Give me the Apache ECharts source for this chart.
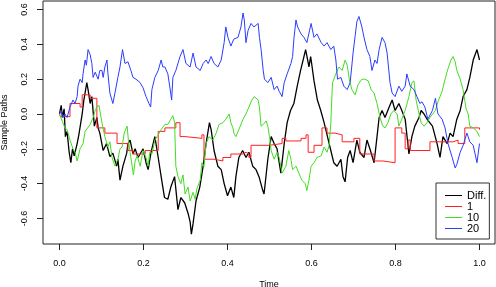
<!DOCTYPE html>
<html lang="en">
<head>
<meta charset="UTF-8">
<title>Sample Paths</title>
<script src="https://cdn.jsdelivr.net/npm/echarts@6/dist/echarts.min.js"></script>
<style>
    html, body { margin: 0; padding: 0; background: #fff; }
    #chart { width: 496px; height: 287px; }
</style>
</head>
<body>
<div id="chart"></div>
<script>
// tick positions
var xTicks = [0, 0.2, 0.4, 0.6, 0.8, 1.0];
var yTicks = [-0.6, -0.4, -0.2, 0, 0.2, 0.4, 0.6];
var seriesNames = ['Diff.', '1', '10', '20'];
var seriesColors = ['#000000', '#ff2020', '#44dd22', '#2a3cff'];

// [time, value]
var diffPath = [[0,0],[0.004,0.05],[0.007,-0.02],[0.011,0.03],[0.014,-0.13],[0.018,-0.10],[0.023,-0.22],[0.027,-0.28],[0.031,-0.20],[0.035,-0.24],[0.042,-0.17],[0.046,-0.12],[0.054,0.0],[0.058,0.08],[0.065,0.18],[0.068,0.14],[0.073,0.06],[0.077,0.10],[0.083,-0.07],[0.089,-0.02],[0.092,-0.08],[0.096,-0.11],[0.104,-0.21],[0.112,-0.17],[0.120,-0.245],[0.127,-0.225],[0.136,-0.30],[0.139,-0.26],[0.144,-0.38],[0.151,-0.30],[0.160,-0.225],[0.163,-0.17],[0.168,-0.15],[0.175,-0.23],[0.180,-0.20],[0.187,-0.25],[0.199,-0.20],[0.206,-0.28],[0.211,-0.32],[0.218,-0.22],[0.227,-0.13],[0.235,-0.25],[0.242,-0.36],[0.250,-0.48],[0.258,-0.49],[0.265,-0.42],[0.274,-0.36],[0.282,-0.55],[0.289,-0.48],[0.298,-0.51],[0.306,-0.57],[0.311,-0.62],[0.314,-0.69],[0.318,-0.63],[0.325,-0.50],[0.334,-0.42],[0.342,-0.30],[0.349,-0.17],[0.357,-0.05],[0.361,-0.09],[0.368,-0.21],[0.377,-0.30],[0.385,-0.32],[0.392,-0.40],[0.400,-0.47],[0.408,-0.42],[0.415,-0.48],[0.420,-0.36],[0.427,-0.25],[0.436,-0.21],[0.444,-0.25],[0.451,-0.22],[0.460,-0.30],[0.468,-0.32],[0.475,-0.36],[0.484,-0.44],[0.487,-0.46],[0.496,-0.26],[0.504,-0.13],[0.511,-0.17],[0.518,-0.20],[0.527,-0.34],[0.535,-0.17],[0.542,-0.05],[0.550,0.02],[0.558,0.06],[0.566,0.16],[0.574,0.25],[0.582,0.33],[0.586,0.37],[0.594,0.27],[0.598,0.33],[0.606,0.19],[0.614,0.08],[0.622,0.02],[0.630,-0.05],[0.638,-0.13],[0.646,-0.21],[0.653,-0.28],[0.661,-0.30],[0.670,-0.26],[0.675,-0.36],[0.680,-0.39],[0.686,-0.25],[0.692,-0.21],[0.699,-0.28],[0.708,-0.15],[0.715,-0.22],[0.725,-0.25],[0.732,-0.15],[0.739,-0.20],[0.749,-0.28],[0.756,-0.13],[0.761,-0.02],[0.768,0.02],[0.775,-0.02],[0.785,0.04],[0.792,0.08],[0.799,0.02],[0.808,0.06],[0.815,0.02],[0.823,-0.03],[0.832,-0.23],[0.839,-0.13],[0.846,-0.07],[0.856,-0.02],[0.861,0.02],[0.868,0.0],[0.875,-0.03],[0.888,-0.07],[0.899,-0.17],[0.906,-0.25],[0.913,-0.13],[0.923,-0.17],[0.930,-0.11],[0.937,-0.13],[0.946,-0.03],[0.954,0.02],[0.961,0.10],[0.970,0.14],[0.977,0.21],[0.985,0.31],[0.994,0.37],[1.0,0.31]];

// step path: level that starts at each time
var path1 = [[0,0],[0.002,-0.015],[0.025,0.06],[0.049,0.04],[0.054,0.11],[0.073,0.09],[0.089,-0.08],[0.108,-0.11],[0.137,-0.17],[0.163,-0.21],[0.175,-0.23],[0.204,-0.21],[0.235,-0.10],[0.251,-0.08],[0.277,-0.05],[0.287,-0.13],[0.299,-0.14],[0.339,-0.12],[0.344,-0.26],[0.368,-0.27],[0.389,-0.25],[0.408,-0.23],[0.437,-0.22],[0.444,-0.23],[0.451,-0.25],[0.456,-0.18],[0.499,-0.17],[0.530,-0.14],[0.539,-0.155],[0.575,-0.14],[0.587,-0.12],[0.592,-0.22],[0.606,-0.18],[0.625,-0.08],[0.637,-0.11],[0.656,-0.12],[0.673,-0.16],[0.701,-0.14],[0.715,-0.23],[0.749,-0.27],[0.770,-0.28],[0.799,-0.08],[0.815,-0.11],[0.823,-0.20],[0.830,-0.15],[0.835,-0.21],[0.882,-0.16],[0.937,-0.15],[0.949,-0.17],[0.965,-0.08],[1.0,-0.09]];

var path10 = [[0,0],[0.004,0.01],[0.008,-0.05],[0.013,-0.08],[0.018,-0.09],[0.025,-0.15],[0.032,-0.20],[0.037,-0.22],[0.042,-0.27],[0.045,-0.28],[0.049,-0.20],[0.056,-0.17],[0.061,-0.10],[0.065,-0.11],[0.073,-0.06],[0.080,-0.02],[0.085,0.02],[0.089,0.04],[0.094,0.05],[0.101,-0.05],[0.108,-0.13],[0.115,-0.19],[0.120,-0.16],[0.125,-0.25],[0.132,-0.30],[0.139,-0.26],[0.144,-0.20],[0.149,-0.19],[0.154,-0.11],[0.161,-0.07],[0.164,-0.15],[0.168,-0.22],[0.173,-0.30],[0.176,-0.35],[0.180,-0.27],[0.185,-0.24],[0.192,-0.30],[0.199,-0.21],[0.206,-0.25],[0.211,-0.30],[0.215,-0.22],[0.220,-0.23],[0.227,-0.15],[0.235,-0.12],[0.242,-0.09],[0.251,-0.06],[0.258,-0.06],[0.265,-0.03],[0.270,-0.01],[0.274,-0.05],[0.277,-0.30],[0.282,-0.36],[0.289,-0.40],[0.294,-0.35],[0.299,-0.46],[0.306,-0.42],[0.311,-0.50],[0.318,-0.45],[0.323,-0.49],[0.327,-0.43],[0.335,-0.38],[0.339,-0.28],[0.344,-0.30],[0.349,-0.17],[0.356,-0.13],[0.365,-0.15],[0.373,-0.11],[0.380,-0.06],[0.389,-0.05],[0.396,-0.03],[0.404,0.0],[0.408,-0.05],[0.413,-0.08],[0.415,-0.11],[0.420,-0.13],[0.427,-0.09],[0.437,-0.03],[0.444,0.0],[0.451,0.04],[0.458,0.08],[0.464,0.10],[0.473,0.08],[0.476,0.04],[0.480,-0.07],[0.485,-0.06],[0.492,-0.04],[0.496,-0.07],[0.500,-0.13],[0.504,-0.21],[0.511,-0.26],[0.518,-0.22],[0.523,-0.25],[0.530,-0.34],[0.539,-0.30],[0.546,-0.21],[0.551,-0.26],[0.555,-0.32],[0.563,-0.30],[0.570,-0.34],[0.577,-0.38],[0.585,-0.40],[0.589,-0.44],[0.594,-0.38],[0.599,-0.30],[0.606,-0.28],[0.613,-0.25],[0.623,-0.24],[0.630,-0.19],[0.637,-0.22],[0.642,-0.18],[0.646,-0.05],[0.650,0.18],[0.658,0.23],[0.665,0.27],[0.673,0.25],[0.680,0.31],[0.685,0.28],[0.690,0.20],[0.696,0.14],[0.704,0.11],[0.711,0.17],[0.720,0.20],[0.727,0.20],[0.735,0.19],[0.742,0.14],[0.749,0.12],[0.756,0.06],[0.763,-0.02],[0.770,-0.07],[0.775,-0.08],[0.782,-0.05],[0.789,0.0],[0.796,0.02],[0.804,0.0],[0.808,-0.07],[0.815,-0.03],[0.823,0.02],[0.832,0.10],[0.839,0.18],[0.844,0.19],[0.849,0.08],[0.856,0.0],[0.861,-0.05],[0.868,-0.07],[0.875,-0.05],[0.882,-0.02],[0.895,0.02],[0.901,0.07],[0.911,0.13],[0.918,0.20],[0.925,0.26],[0.932,0.31],[0.937,0.33],[0.942,0.30],[0.946,0.25],[0.954,0.20],[0.961,0.14],[0.968,0.03],[0.973,0.0],[0.977,-0.07],[0.985,-0.08],[0.994,-0.10],[1.0,-0.13]];

var path20 = [[0,0],[0.004,0.02],[0.008,-0.02],[0.013,0.0],[0.018,-0.02],[0.025,0.04],[0.032,0.08],[0.037,0.06],[0.042,0.10],[0.044,0.16],[0.049,0.20],[0.054,0.18],[0.056,0.23],[0.061,0.31],[0.064,0.28],[0.068,0.37],[0.073,0.34],[0.077,0.29],[0.080,0.21],[0.085,0.24],[0.089,0.23],[0.092,0.20],[0.096,0.25],[0.101,0.25],[0.104,0.21],[0.108,0.27],[0.113,0.31],[0.115,0.24],[0.120,0.12],[0.127,0.06],[0.132,0.12],[0.139,0.21],[0.144,0.27],[0.150,0.37],[0.156,0.29],[0.163,0.30],[0.170,0.25],[0.175,0.21],[0.182,0.20],[0.192,0.18],[0.199,0.15],[0.206,0.10],[0.213,0.06],[0.217,0.04],[0.220,0.14],[0.227,0.21],[0.235,0.25],[0.242,0.31],[0.246,0.27],[0.251,0.27],[0.258,0.23],[0.263,0.15],[0.267,0.08],[0.270,0.21],[0.277,0.25],[0.287,0.33],[0.294,0.37],[0.301,0.29],[0.311,0.27],[0.318,0.35],[0.325,0.27],[0.335,0.25],[0.342,0.29],[0.349,0.31],[0.354,0.29],[0.361,0.33],[0.368,0.29],[0.377,0.27],[0.385,0.31],[0.392,0.41],[0.396,0.50],[0.401,0.44],[0.408,0.39],[0.415,0.43],[0.425,0.44],[0.432,0.50],[0.437,0.58],[0.440,0.54],[0.444,0.41],[0.449,0.48],[0.456,0.52],[0.463,0.50],[0.473,0.52],[0.476,0.44],[0.480,0.37],[0.485,0.25],[0.488,0.20],[0.496,0.18],[0.504,0.21],[0.511,0.14],[0.518,0.16],[0.523,0.13],[0.530,0.10],[0.535,0.18],[0.542,0.23],[0.551,0.29],[0.555,0.33],[0.558,0.43],[0.563,0.54],[0.567,0.50],[0.575,0.46],[0.582,0.44],[0.589,0.41],[0.599,0.52],[0.606,0.44],[0.613,0.46],[0.623,0.41],[0.630,0.39],[0.637,0.41],[0.646,0.37],[0.653,0.39],[0.658,0.31],[0.662,0.20],[0.670,0.21],[0.677,0.16],[0.685,0.14],[0.692,0.18],[0.699,0.35],[0.704,0.45],[0.708,0.53],[0.713,0.56],[0.720,0.50],[0.725,0.44],[0.732,0.37],[0.739,0.33],[0.744,0.25],[0.751,0.31],[0.756,0.29],[0.761,0.37],[0.768,0.44],[0.775,0.41],[0.780,0.35],[0.787,0.18],[0.792,0.12],[0.799,0.10],[0.808,0.16],[0.815,0.13],[0.823,0.16],[0.827,0.23],[0.835,0.16],[0.844,0.14],[0.851,0.10],[0.858,0.06],[0.863,0.07],[0.870,0.04],[0.877,-0.03],[0.888,0.02],[0.895,0.09],[0.901,0.0],[0.911,-0.03],[0.918,-0.08],[0.925,-0.17],[0.935,-0.25],[0.942,-0.31],[0.946,-0.29],[0.954,-0.22],[0.961,-0.18],[0.970,-0.11],[0.977,-0.16],[0.985,-0.18],[0.994,-0.28],[1.0,-0.17]];

var paths = [diffPath, path1, path10, path20];

var chart = echarts.init(document.getElementById('chart'), null, { renderer: 'canvas' });

var font = 'Liberation Sans, Arial, Helvetica, sans-serif';

var series = seriesNames.map(function (name, i) {
    return {
        name: name,
        type: 'line',
        data: paths[i],
        step: i === 1 ? 'end' : false,
        showSymbol: false,
        symbol: 'none',
        color: seriesColors[i],
        lineStyle: { width: i === 0 ? 1.3 : 1, color: seriesColors[i] },
        silent: true
    };
});

var option = {
    animation: false,
    backgroundColor: '#ffffff',
    grid: {
        left: 43,
        top: 1,
        width: 452,
        height: 243,
        containLabel: false,
        outerBoundsMode: 'none',
        show: true,
        borderColor: '#222',
        borderWidth: 1,
        backgroundColor: 'transparent'
    },
    legend: {
        data: seriesNames.map(function (n) { return { name: n, icon: 'rect' }; }),
        orient: 'vertical',
        left: 436,
        top: 183,
        itemWidth: 17,
        itemHeight: 1,
        itemGap: 0,
        padding: [7, 3, 5, 9],
        borderColor: '#333',
        borderWidth: 1,
        borderRadius: 0,
        backgroundColor: '#fff',
        textStyle: { fontSize: 11, color: '#000', fontFamily: font, padding: [0, 0, 0, 0] }
    },
    xAxis: {
        type: 'value',
        min: -0.0393,
        max: 1.0369,
        name: 'Time',
        nameLocation: 'middle',
        nameGap: 36,
        nameTextStyle: { fontSize: 9, color: '#000', fontFamily: font },
        axisLine: { show: false, onZero: false },
        axisTick: {
            show: true,
            customValues: xTicks,
            length: 6,
            inside: false,
            lineStyle: { color: '#222' }
        },
        axisLabel: {
            customValues: xTicks,
            margin: 15,
            fontSize: 9,
            color: '#000',
            fontFamily: font,
            formatter: function (v) { return v.toFixed(1); }
        },
        splitLine: { show: false }
    },
    yAxis: {
        type: 'value',
        min: -0.747,
        max: 0.649,
        name: 'Sample Paths',
        nameLocation: 'middle',
        nameGap: 34,
        nameTextStyle: { fontSize: 9, color: '#000', fontFamily: font },
        axisLine: { show: false, onZero: false },
        axisTick: {
            show: true,
            customValues: yTicks,
            length: 6,
            inside: false,
            lineStyle: { color: '#222' }
        },
        axisLabel: {
            customValues: yTicks,
            rotate: 90,
            margin: 14,
            fontSize: 9,
            color: '#000',
            fontFamily: font,
            formatter: function (v) { return v.toFixed(1); }
        },
        splitLine: { show: false }
    },
    series: series
};

chart.setOption(option);
</script>
</body>
</html>
